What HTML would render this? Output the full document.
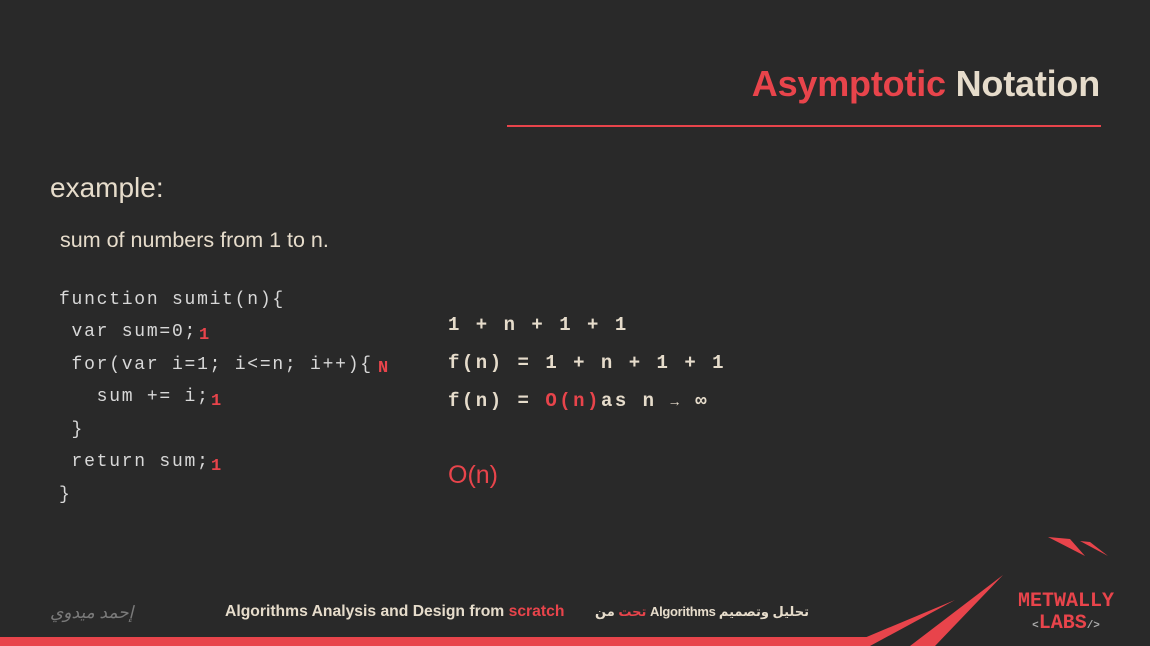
<!DOCTYPE html>
<html><head><meta charset="utf-8"><style>
body{margin:0;width:1150px;height:646px;background:#292929;overflow:hidden;position:relative;font-family:"Liberation Sans",sans-serif}
.a{position:absolute;white-space:pre}
.code{font-family:"Liberation Mono",monospace;font-size:18px;color:#d8d8d8;letter-spacing:1.75px}
.f{font-family:"Liberation Mono",monospace;font-size:19px;font-weight:bold;color:#e6dccb;letter-spacing:2.5px}
.r{color:#e8444b}
.n{font-family:"Liberation Mono",monospace;font-size:17px;font-weight:bold;color:#e8444b}
</style></head><body>
<div class="a" style="right:50px;top:63px;font-size:36px;font-weight:bold;color:#e6dccb;letter-spacing:-0.2px"><span class="r">Asymptotic</span> Notation</div>
<div class="a" style="left:507px;top:125px;width:594px;height:2px;background:#e8444b"></div>
<div class="a" style="left:50px;top:172px;font-size:28px;color:#e6dccb">example:</div>
<div class="a" style="left:60px;top:228px;font-size:21.5px;color:#e6dccb">sum of numbers from 1 to n.</div>
<div class="a code" style="left:59px;top:290px">function sumit(n){</div>
<div class="a code" style="left:59px;top:322px"> var sum=0;</div>
<div class="a code" style="left:59px;top:355px"> for(var i=1; i&lt;=n; i++){</div>
<div class="a code" style="left:59px;top:387px">   sum += i;</div>
<div class="a code" style="left:59px;top:420px"> }</div>
<div class="a code" style="left:59px;top:452px"> return sum;</div>
<div class="a code" style="left:59px;top:485px">}</div>
<div class="a n" style="left:199px;top:326px">1</div>
<div class="a n" style="left:378px;top:359px">N</div>
<div class="a n" style="left:211px;top:392px">1</div>
<div class="a n" style="left:211px;top:457px">1</div>
<div class="a f" style="left:448px;top:314px">1 + n + 1 + 1</div>
<div class="a f" style="left:448px;top:352px">f(n) = 1 + n + 1 + 1</div>
<div class="a f" style="left:448px;top:390px">f(n) = <span class="r">O(n)</span>as n <span style="font-size:14px">→</span> ∞</div>
<div class="a" style="left:448px;top:461px;font-size:25px;color:#e8444b">O(n)</div>
<div class="a" style="left:50px;top:603px;font-size:17px;color:#7a7a7a;font-style:italic">إحمد ميدوي</div>
<div class="a" style="left:225px;top:603px;font-size:15.7px;font-weight:bold;color:#e6dccb">Algorithms Analysis and Design from <span class="r">scratch</span></div>
<div class="a" style="left:595px;top:604px;font-size:13px;font-weight:bold;color:#e6dccb;letter-spacing:-0.3px;font-family:'Liberation Sans','DejaVu Sans',sans-serif"><span class="r">تحت</span> من Algorithms تحليل وتصميم</div>
<svg class="a" style="left:0;top:0" width="1150" height="646">
<polygon points="0,637 880,637 860,646 0,646" fill="#e8444b"/>
<polygon points="845,646 955,600 870,646" fill="#e8444b"/>
<polygon points="910,646 1003,575 935,646" fill="#e8444b"/>
<polygon points="1048,537 1070,539 1085,556" fill="#e8444b"/>
<polygon points="1080,541 1090,542 1108,556" fill="#e8444b"/>
<text x="1066" y="606" text-anchor="middle" font-family="Liberation Mono,monospace" font-weight="bold" font-size="20" fill="#e8444b">METWALLY</text>
<text x="1066" y="628" text-anchor="middle" font-family="Liberation Mono,monospace" font-weight="bold" font-size="20" fill="#e8444b"><tspan font-size="11" fill="#aaa">&lt;</tspan>LABS<tspan font-size="11" fill="#aaa">/&gt;</tspan></text>
</svg>
</body></html>
